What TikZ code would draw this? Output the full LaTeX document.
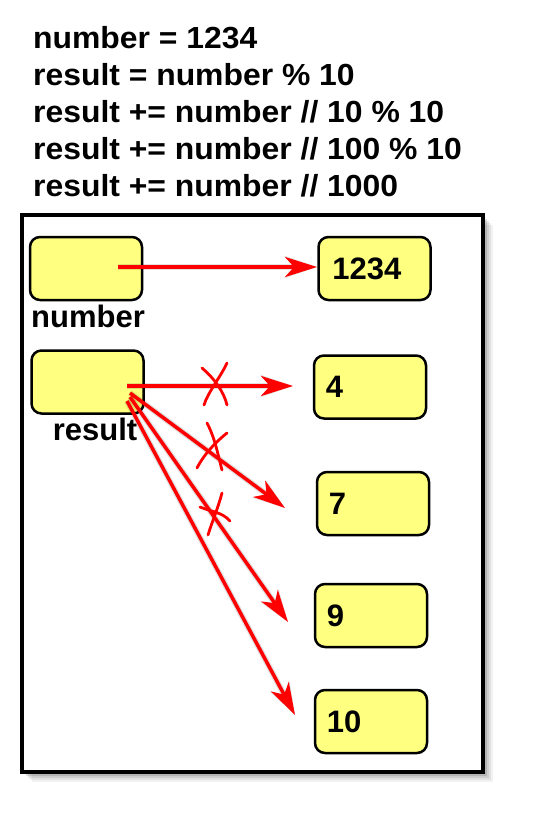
\documentclass[tikz,border=0pt]{standalone}
\usepackage{fontspec}
\setmainfont{Liberation Sans}
\usetikzlibrary{arrows.meta}
\definecolor{boxyellow}{RGB}{255,255,128}
\begin{document}
\begin{tikzpicture}[x=1pt,y=-1pt]
\tikzset{
  codeline/.style={anchor=base west, inner sep=0pt},
  valbox/.style={draw=black, line width=2.5pt, rounded corners=10pt, fill=boxyellow,
     minimum width=112pt, minimum height=63pt, inner sep=0pt},
  valtext/.style={anchor=west, inner sep=0pt, font=\bfseries\fontsize{31}{31}\selectfont},
  varlabel/.style={anchor=base, inner sep=0pt, font=\bfseries\fontsize{31}{31}\selectfont},
  redarrow/.style={draw=red, line width=3.5pt, -{Stealth[length=32pt,width=20pt,inset=9pt]}},
  arrowshadow/.style={draw=black, opacity=0.12, line width=6pt, -{Stealth[length=32pt,width=22pt,inset=9pt]}},
  crossline/.style={draw=red, line width=2.8pt, line cap=round},
}
\newcommand{\codetext}[1]{\scalebox{1.045}[1]{\bfseries\fontsize{30.5}{30.5}\selectfont #1}}
\useasboundingbox (0,0) rectangle (543,815);
% code text
\node[codeline] (c1) at (33,48) {\codetext{number = 1234}};
\node[codeline] (c2) at (33,85) {\codetext{result = number \% 10}};
\node[codeline] (c3) at (33,122) {\codetext{result += number // 10 \% 10}};
\node[codeline] (c4) at (33,159) {\codetext{result += number // 100 \% 10}};
\node[codeline] (c5) at (33,196) {\codetext{result += number // 1000}};
% frame with shadow
\foreach \s/\o in {10/0.05,8/0.07,6/0.09,4/0.12}{
  \fill[black, opacity=\o] (22+\s,215+\s) rectangle (483+\s,772+\s);
}
\fill[white] (22,215) rectangle (483,772);
\draw[line width=4pt] (22,215) rectangle (483,772) node[coordinate] (frame) {};
% variable boxes
\node[valbox] (numbox) at (86,268.5) {};
\node[varlabel] (numlbl) at (88,327) {number};
\node[valbox] (resbox) at (87.5,382) {};
\node[varlabel] (reslbl) at (95,440) {result};
% value boxes
\node[valbox] (v1234) at (374.5,268.5) {};
\node[valtext] (t1234) at ([xshift=15pt]v1234.west) {1234};
\node[valbox] (v4) at (370,387) {};
\node[valtext] (t4) at ([xshift=13pt]v4.west) {4};
\node[valbox] (v7) at (373,503.5) {};
\node[valtext] (t7) at ([xshift=13pt]v7.west) {7};
\node[valbox] (v9) at (371,615.5) {};
\node[valtext] (t9) at ([xshift=13pt]v9.west) {9};
\node[valbox] (v10) at (371,721.5) {};
\node[valtext] (t10) at ([xshift=13pt]v10.west) {10};
% arrow end points
\coordinate (numsrc) at (118,267);
\coordinate (src4) at (127,386);
\coordinate (src7) at (130,393);
\coordinate (src9) at (130,397);
\coordinate (src10) at (127,401);
\coordinate (tip1234) at (317,267);
\coordinate (tip4) at (293,386);
\coordinate (tip7) at (285,508);
\coordinate (tip9) at (288,622);
\coordinate (tip10) at (295,715);
% shadows of arrows
\begin{scope}[shift={(3,5)}]
\draw[arrowshadow] (numsrc) -- (tip1234);
\draw[arrowshadow] (src4) -- (tip4);
\draw[arrowshadow] (src7) -- (tip7);
\draw[arrowshadow] (src9) -- (tip9);
\draw[arrowshadow] (src10) -- (tip10);
\end{scope}
% arrows
\draw[redarrow] (numsrc) -- (tip1234);
\draw[redarrow] (src4) -- (tip4);
\draw[redarrow] (src7) -- (tip7);
\draw[redarrow] (src9) -- (tip9);
\draw[redarrow] (src10) -- (tip10);
% crosses
\draw[crossline] (202,368) .. controls (214,378) and (224,392) .. (227,405);
\draw[crossline] (227,363) .. controls (220,378) and (208,392) .. (204,405);
\draw[crossline] (207,423) .. controls (215,438) and (218,455) .. (222,470);
\draw[crossline] (227,433) .. controls (212,445) and (202,458) .. (197,468);
\draw[crossline] (222,493) .. controls (218,508) and (212,522) .. (208,535);
\draw[crossline] (200,507) .. controls (212,512) and (222,512) .. (230,521);
\end{tikzpicture}
\end{document}
